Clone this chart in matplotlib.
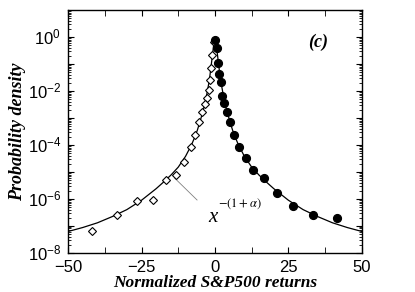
import numpy as np
import matplotlib
matplotlib.use('Agg')
import matplotlib.pyplot as plt
from matplotlib.ticker import FixedLocator, LogLocator, NullFormatter

# open diamonds (negative returns)
neg_x = [-0.5, -0.85, -1.36, -1.7, -1.94, -2.55, -3.3, -4.25, -5.34, -6.8,
         -8.23, -10.5, -13.3, -16.8, -21.2, -26.4, -33.2, -41.9]
neg_y = [0.65, 0.21, 0.071, 0.026, 0.011, 5.5e-3, 3.2e-3, 1.7e-3, 6.9e-4, 2.3e-4,
         8.5e-5, 2.4e-5, 7.8e-6, 5.2e-6, 8.8e-7, 8.7e-7, 2.6e-7, 6.7e-8]

# filled circles (positive returns)
pos_x = [0.0, 0.68, 1.12, 1.46, 1.94, 2.55, 3.23, 4.08, 5.2, 6.53,
         8.16, 10.5, 13.0, 16.7, 21.0, 26.4, 33.2, 41.7]
pos_y = [0.77, 0.39, 0.11, 0.043, 0.022, 6.5e-3, 3.6e-3, 1.6e-3, 6.8e-4, 2.3e-4,
         8.4e-5, 3.2e-5, 1.2e-5, 5.9e-6, 1.7e-6, 5.5e-7, 2.6e-7, 2.0e-7]

# fitted curve
fit_x = [-50, -45, -40, -35, -30, -25, -20, -17.5, -15, -12.5, -10, -8, -7, -6,
         -5, -4, -3, -2, -1.5, -1, -0.5, 0,
         0.5, 1, 1.5, 2, 3, 4, 5, 6, 7, 8, 10, 12.5, 15, 17.5, 20, 25, 30, 35,
         40, 45, 50]
fit_y = [6.2e-8, 8.7e-8, 1.3e-7, 2.2e-7, 4.0e-7, 8.9e-7, 2.4e-6, 4.2e-6, 7.6e-6,
         1.5e-5, 3.8e-5, 1.0e-4, 1.8e-4, 3.5e-4, 7.9e-4, 1.9e-3, 5.6e-3, 0.022,
         0.056, 0.16, 0.45, 0.83,
         0.45, 0.16, 0.056, 0.022, 5.6e-3, 1.9e-3, 7.9e-4, 3.5e-4, 1.8e-4,
         1.0e-4, 3.8e-5, 1.5e-5, 7.6e-6, 4.2e-6, 2.4e-6, 8.9e-7, 4.0e-7,
         2.2e-7, 1.3e-7, 8.7e-8, 6.2e-8]

# pointer line to the power-law label
ptr_x = [-13.8, -6.1]
ptr_y = [6.0e-6, 9.1e-7]

xticks = [-50, -25, 0, 25, 50]
xtick_labels = ['\u221250', '\u221225', '0', '25', '50']
ytick_exps = [-8, -6, -4, -2, 0]

plt.rcParams['mathtext.fontset'] = 'custom'
plt.rcParams['mathtext.rm'] = 'Liberation Sans'
plt.rcParams['mathtext.it'] = 'Liberation Sans:italic'
plt.rcParams['mathtext.bf'] = 'Liberation Sans:bold'

fig = plt.figure(figsize=(4.15, 2.92), dpi=100)
ax = fig.add_axes([0.164, 0.134, 0.708, 0.832])

ax.plot(fit_x, fit_y, color='black', lw=0.9, zorder=2)
ax.plot(ptr_x, ptr_y, color='gray', lw=0.6, zorder=1)
ax.plot(neg_x, neg_y, linestyle='none', marker='D', markersize=4.2,
        markerfacecolor='white', markeredgecolor='black', markeredgewidth=0.8, zorder=3)
ax.plot(pos_x, pos_y, linestyle='none', marker='o', markersize=5.6,
        markerfacecolor='black', markeredgecolor='black', zorder=3)

ax.set_yscale('log')
ax.set_xlim(-50, 50)
ax.set_ylim(1e-8, 10)

ax.set_xticks(xticks)
ax.set_xticklabels(xtick_labels, fontsize=12, family='Liberation Sans')
ax.xaxis.set_minor_locator(FixedLocator([-37.5, -12.5, 12.5, 37.5]))

ax.yaxis.set_major_locator(FixedLocator([10.0 ** e for e in range(-8, 1)]))
ax.set_yticklabels(['$10^{%d}$' % e if e in ytick_exps else '' for e in range(-8, 1)],
                   fontsize=12)
ax.yaxis.set_minor_locator(LogLocator(base=10, subs=np.arange(2, 10), numticks=20))
ax.yaxis.set_minor_formatter(NullFormatter())

ax.tick_params(which='both', direction='in', top=True, right=True)
ax.tick_params(which='major', length=4, width=0.8)
ax.tick_params(which='minor', length=2, width=0.6)
ax.tick_params(axis='x', which='minor', length=4)
ax.tick_params(axis='x', which='major', pad=5)
ax.tick_params(axis='y', which='major', pad=5)
for s in ax.spines.values():
    s.set_linewidth(1.0)

ax.set_xlabel('Normalized S&P500 returns', family='Liberation Serif',
              fontweight='bold', style='italic', fontsize=12.5, labelpad=0)
ax.set_ylabel('Probability density', family='Liberation Serif',
              fontweight='bold', style='italic', fontsize=13, labelpad=1)

ax.text(35, 10 ** -0.2, '(c)', family='Liberation Serif', fontweight='bold',
        style='italic', fontsize=13, ha='center', va='center')
ax.text(-2.4, 10 ** -6.85, 'x', family='Liberation Serif', style='italic',
        fontsize=15, ha='left', va='baseline')
ax.text(0.9, 10 ** -6.3, r'$-(1+\alpha)$', math_fontfamily='stix',
        fontsize=9, ha='left', va='baseline')

plt.savefig('out.png', dpi=100)
